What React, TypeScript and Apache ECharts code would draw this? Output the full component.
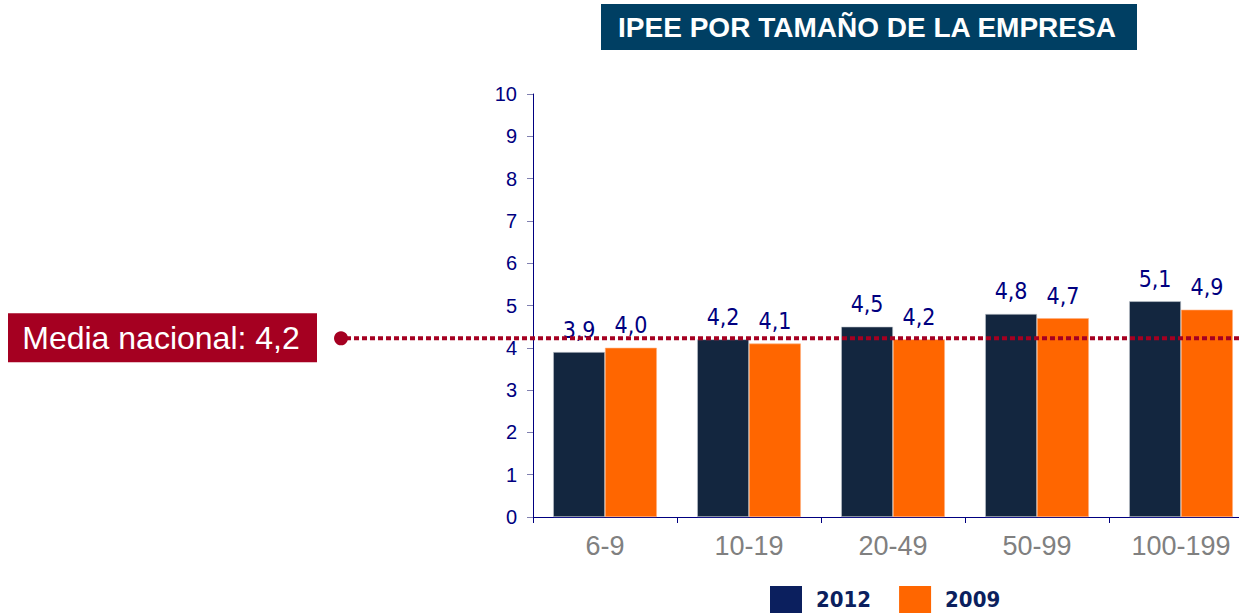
import React, { useEffect, useRef } from "react";
import * as echarts from "echarts";

const categories = ["6-9", "10-19", "20-49", "50-99", "100-199"];
const values2012 = [3.9, 4.2, 4.5, 4.8, 5.1];
const values2009 = [4.0, 4.1, 4.2, 4.7, 4.9];
const mediaNacional = 4.2;
const yTicks = { min: 0, max: 10, interval: 1 };

const fmt = (v: number) => v.toFixed(1).replace(".", ",");

export default function App() {
  const ref = useRef<HTMLDivElement>(null);
  useEffect(() => {
    if (!ref.current) return;
    const chart = echarts.init(ref.current, null, { renderer: "svg" });
    const labelStyle = {
      show: true,
      position: "top" as const,
      distance: 11,
      color: "#000080",
      fontSize: 23,
      fontFamily: "DejaVu Sans Condensed",
      formatter: (p: any) => fmt(p.value),
    };
    chart.setOption({
      animation: false,
      backgroundColor: "#ffffff",
      grid: {
        left: 533,
        top: 94,
        bottom: 97,
        width: 720,
        containLabel: false,
        outerBoundsMode: "none",
      },
      legend: {
        bottom: -4,
        left: 765,
        itemWidth: 32,
        itemHeight: 27,
        itemGap: 28,
        icon: "rect",
        textStyle: {
          color: "#0B1F5E",
          fontSize: 22,
          fontWeight: "bold",
          fontFamily: "DejaVu Sans Condensed",
          padding: [0, 0, 0, 9],
        },
        data: [
          { name: "2012", itemStyle: { color: "#0B1F5E", borderWidth: 0 } },
          { name: "2009", itemStyle: { color: "#FF6600", borderWidth: 0 } },
        ],
      },
      xAxis: {
        type: "category",
        data: categories,
        axisLine: { lineStyle: { color: "#000080", width: 1 } },
        axisTick: { show: true, length: 6, lineStyle: { color: "#000080" } },
        axisLabel: {
          color: "#808080",
          fontSize: 27,
          fontFamily: "Liberation Sans",
          margin: 15,
        },
      },
      yAxis: {
        type: "value",
        min: yTicks.min,
        max: yTicks.max,
        interval: yTicks.interval,
        axisLine: { show: true, lineStyle: { color: "#000080", width: 1 } },
        axisTick: { show: true, length: 6, lineStyle: { color: "#8080B0" } },
        splitLine: { show: false },
        axisLabel: {
          color: "#000080",
          fontSize: 20,
          fontFamily: "Liberation Sans",
          margin: 16,
        },
      },
      series: [
        {
          name: "2012",
          type: "bar",
          data: values2012,
          barGap: "0%",
          barCategoryGap: "28%",
          itemStyle: { color: "#13263F", borderColor: "#C8CCD4", borderWidth: 0.6 },
          label: labelStyle,
        },
        {
          name: "2009",
          type: "bar",
          data: values2009,
          barGap: "0%",
          barCategoryGap: "28%",
          itemStyle: { color: "#FF6600", borderColor: "#FFB080", borderWidth: 0.6 },
          label: labelStyle,
        },
      ],
    });
    const y = chart.convertToPixel({ yAxisIndex: 0 }, mediaNacional) as number;
    chart.setOption({
      graphic: [
        {
          type: "rect",
          shape: { x: 601, y: 4, width: 536, height: 46 },
          style: { fill: "#003F63" },
        },
        {
          type: "text",
          x: 867,
          y: 27,
          style: {
            text: "IPEE POR TAMAÑO DE LA EMPRESA",
            fill: "#ffffff",
            fontSize: 28,
            fontWeight: "bold",
            fontFamily: "Liberation Sans",
            align: "center",
            verticalAlign: "middle",
          },
        },
        {
          type: "line",
          shape: { x1: 346, y1: y - 1, x2: 1239, y2: y - 1 },
          style: { stroke: "#A50021", lineWidth: 4, lineDash: [5, 3] },
          z: 10,
        },
        {
          type: "circle",
          shape: { cx: 341, cy: y - 1, r: 7 },
          style: { fill: "#A50021" },
          z: 10,
        },
        {
          type: "rect",
          shape: { x: 8, y: y - 26, width: 309, height: 49 },
          style: { fill: "#A50021" },
        },
        {
          type: "text",
          x: 161,
          y: y - 1,
          style: {
            text: "Media nacional: " + fmt(mediaNacional),
            fill: "#ffffff",
            fontSize: 32,
            fontFamily: "Liberation Sans",
            align: "center",
            verticalAlign: "middle",
          },
        },
      ],
    });
    return () => chart.dispose();
  }, []);
  return (
    <div
      ref={ref}
      style={{ position: "fixed", left: 0, top: 0, width: 1239, height: 614 }}
    />
  );
}
